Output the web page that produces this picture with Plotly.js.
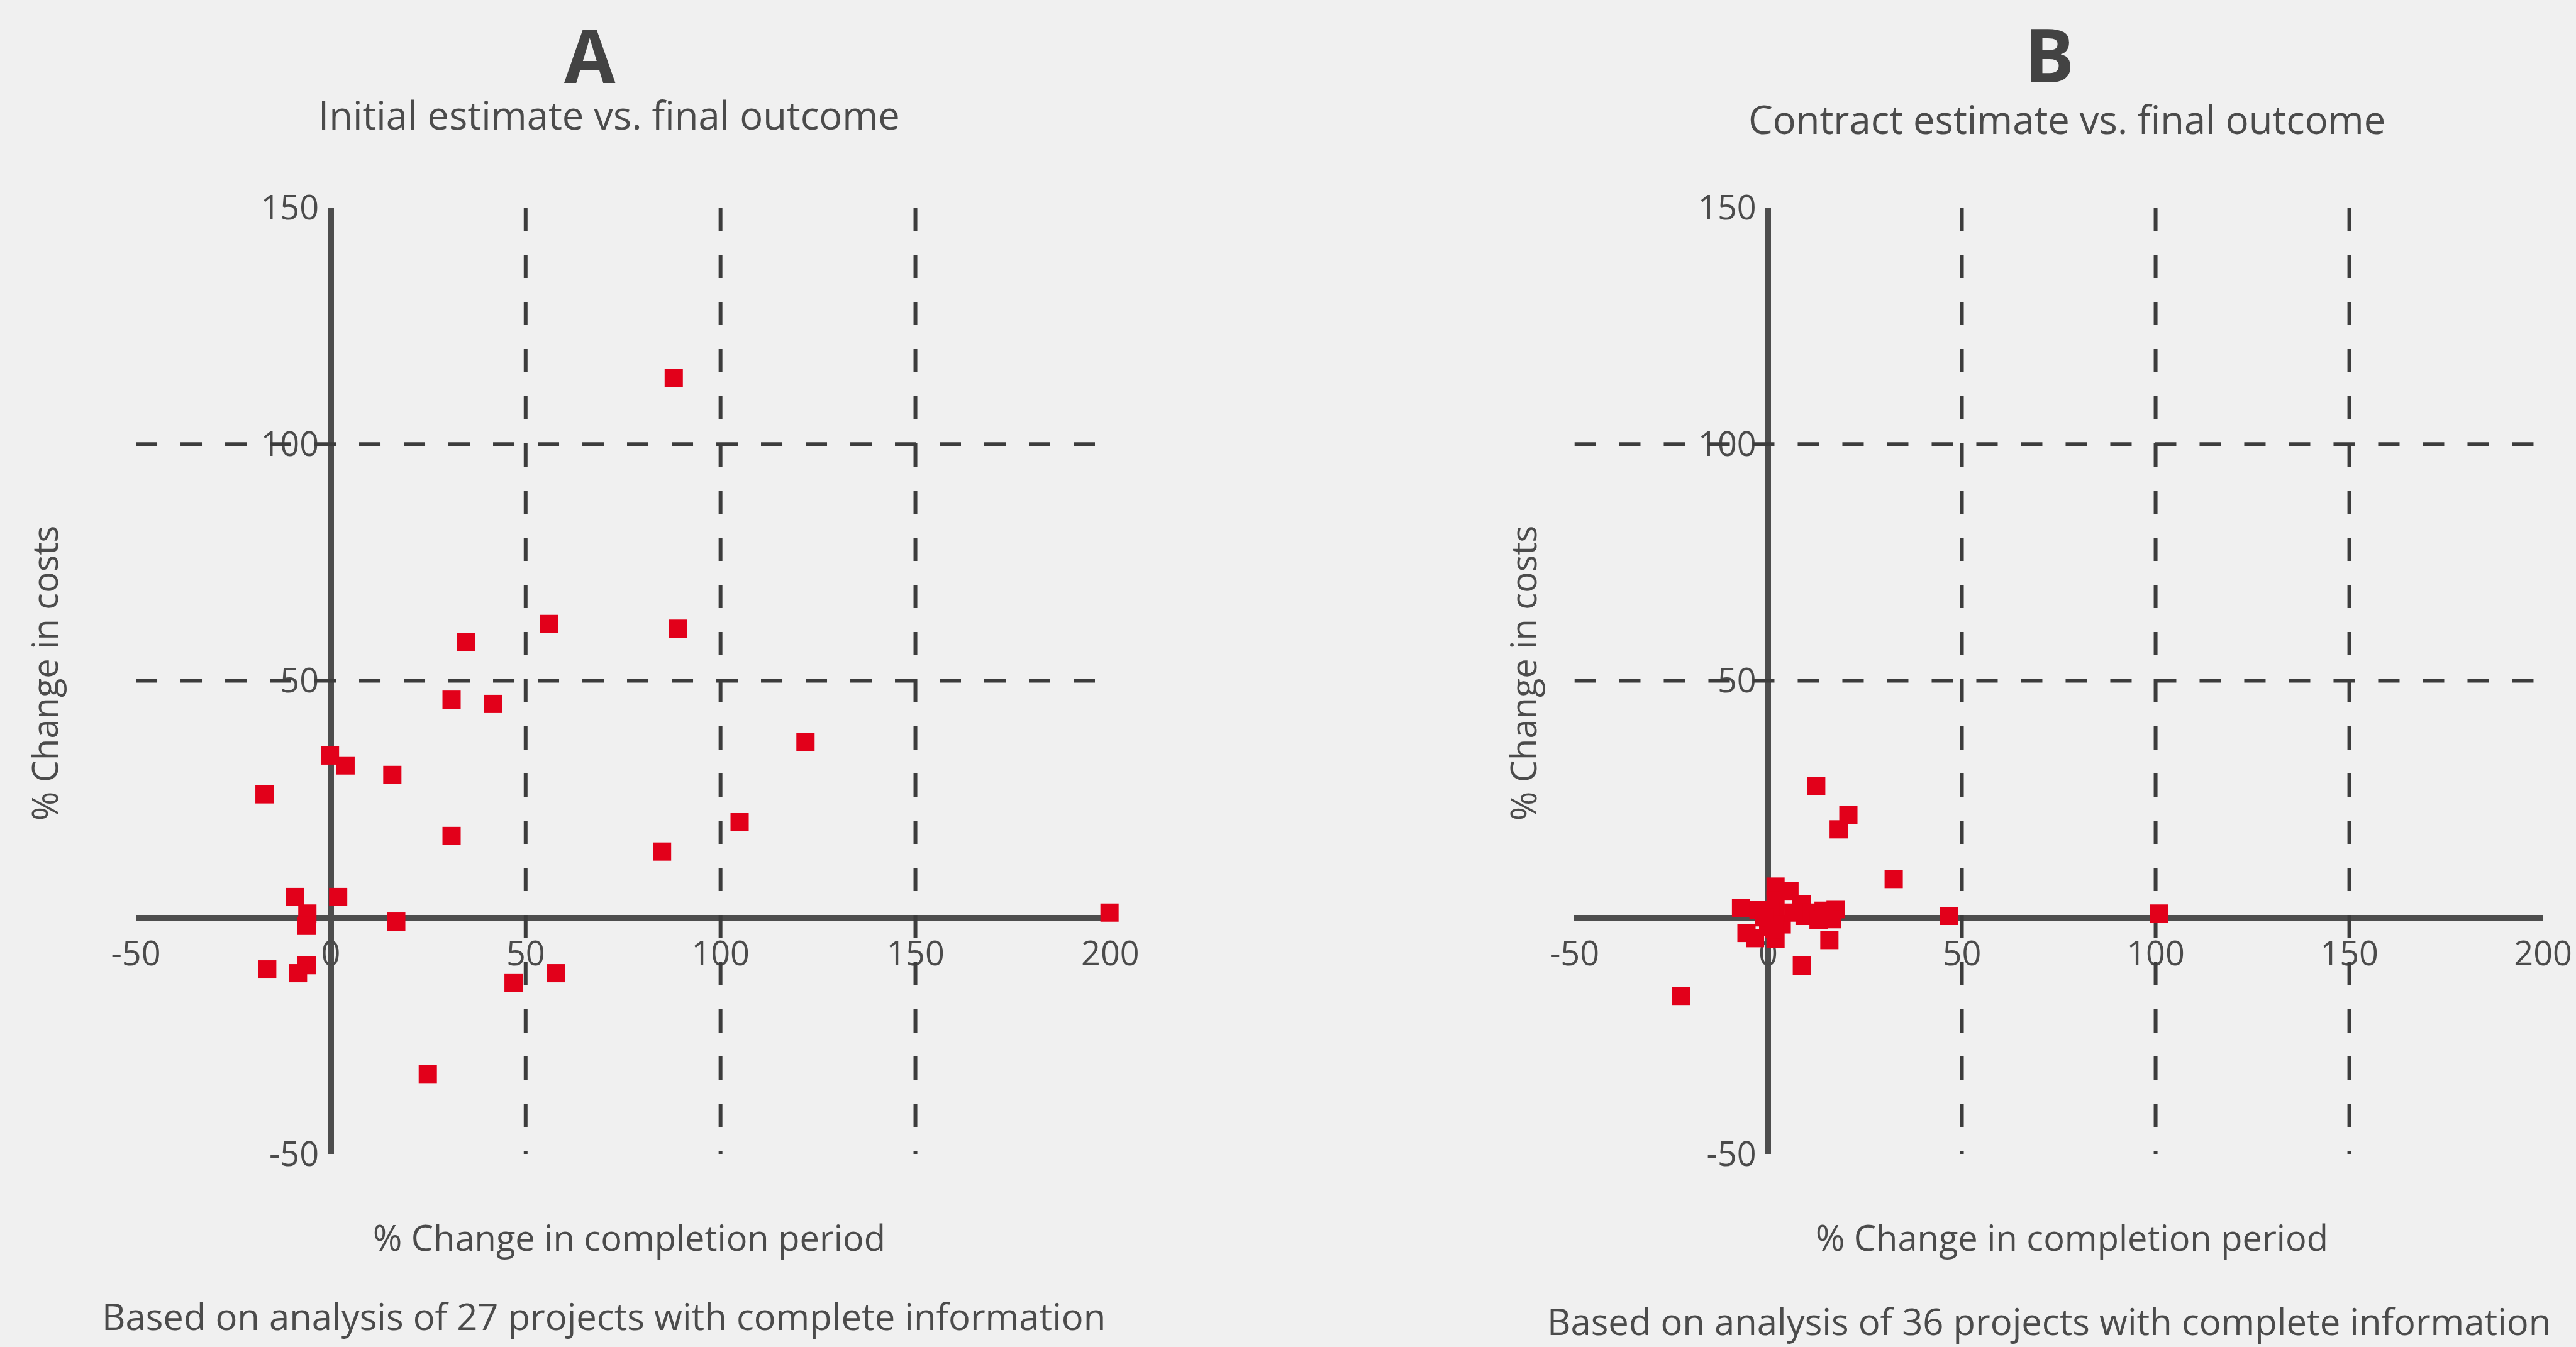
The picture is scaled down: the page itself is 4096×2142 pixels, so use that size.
<!DOCTYPE html>
<html>
<head>
<meta charset="utf-8">
<script src="https://cdn.plot.ly/plotly-3.0.1.min.js"></script>
<style>
  html, body { margin: 0; padding: 0; background: #f0f0f0; }
  #chart { width: 4096px; height: 2142px; }
</style>
</head>
<body>
<div id="chart"></div>
<script>
// Axis ticks and reference lines (percent)
const xTickVals = [-50, 0, 50, 100, 150, 200];
const yTickVals = [-50, 50, 100, 150];
const xGuideVals = [50, 100, 150];
const yGuideVals = [50, 100];
const xRange = [-50, 200];
const yRange = [-50, 150];

// Panel A: initial estimate vs. final outcome
const initialPeriodChange = [34.7, 56.0, 89.0, 31.0, 41.7, -0.2, 3.8, 15.8, -17.0, 31.0, 85.0, -9.1, 1.9,
  -6.0, -6.2, 16.8, -16.3, -6.2, -8.4, 46.9, 57.8, 24.9, 121.8, 104.9, 199.8, 88.0];
const initialCostChange = [58.2, 62.0, 61.0, 46.0, 45.1, 34.2, 32.1, 30.1, 26.0, 17.2, 13.9, 4.3, 4.3,
  0.8, -1.8, -0.9, -11.0, -10.1, -11.8, -13.9, -11.8, -33.1, 37.0, 20.1, 1.0, 114.0];

// Panel B: contract estimate vs. final outcome
const contractPeriodChange = [12.4, 20.7, 18.2, 32.4, 46.7, 100.8, -22.4, 8.7, 15.8, -7.0, -5.6, -3.4, -2.5,
  1.9, 1.9, 1.9, 1.9, 5.5, 8.6, 11.2, 17.4, 16.5, 9.4, 14.3, 0.5, 0.0, 3.5, 6.5, -1.0, 1.5, 13.0];
const contractCostChange = [27.7, 21.7, 18.6, 8.1, 0.3, 0.8, -16.6, -10.2, -4.8, 1.9, -3.3, -4.4, 1.6,
  6.5, 3.6, 0.3, -4.6, 5.6, 2.8, 1.0, 1.7, -0.4, 0.3, 1.4, 1.5, -2.0, -1.5, 1.0, 0.0, -2.5, -0.5];

const panelLetters = ['A', 'B'];
const panelSubtitles = ['Initial estimate vs. final outcome', 'Contract estimate vs. final outcome'];
const xTitle = '% Change in completion period';
const yTitle = '% Change in costs';
const panelNotes = ['Based on analysis of 27 projects with complete information',
                    'Based on analysis of 36 projects with complete information'];

const FONT = 'Open Sans, Roboto, DejaVu Sans, sans-serif';
const INK = '#4b4b4b';
const RED = '#e2001a';

// Dashed guide lines, built as line traces so markers sit on top of them
function guideTraces(xa, ya) {
  const vx = [], vy = [];
  xGuideVals.forEach(v => { vx.push(v, v, null); vy.push(yRange[1], yRange[0], null); });
  const hx = [], hy = [];
  yGuideVals.forEach(v => { hx.push(xRange[0], xRange[1], null); hy.push(v, v, null); });
  return [
    { type: 'scatter', mode: 'lines', x: vx, y: vy, xaxis: xa, yaxis: ya, hoverinfo: 'skip',
      line: { color: '#3c3c3c', width: 6, dash: '37px,38px' }, showlegend: false },
    { type: 'scatter', mode: 'lines', x: hx, y: hy, xaxis: xa, yaxis: ya, hoverinfo: 'skip',
      line: { color: '#3c3c3c', width: 6, dash: '34px,37px' }, showlegend: false }
  ];
}

function pointTrace(xs, ys, xa, ya) {
  return { type: 'scatter', mode: 'markers', x: xs, y: ys, xaxis: xa, yaxis: ya,
    cliponaxis: false, showlegend: false,
    marker: { symbol: 'square', size: 29, color: RED, line: { width: 0 } } };
}

const data = [
  ...guideTraces('x', 'y'),
  pointTrace(initialPeriodChange, initialCostChange, 'x', 'y'),
  ...guideTraces('x2', 'y2'),
  pointTrace(contractPeriodChange, contractCostChange, 'x2', 'y2')
];

const tickFont = { family: FONT, size: 54, color: INK };

function xAxis(domain, yZero) {
  return { domain: domain, range: xRange, anchor: 'free', position: yZero,
    showline: true, linewidth: 9, linecolor: '#4d4d4d', showgrid: false, zeroline: false,
    tickmode: 'array', tickvals: xTickVals, ticktext: xTickVals.map(String), ticks: '',
    ticklabelstandoff: 6, tickfont: tickFont, layer: 'below traces', fixedrange: true };
}
function yAxis(domain, xZero) {
  return { domain: domain, range: yRange, anchor: 'free', position: xZero, side: 'left',
    showline: true, linewidth: 9, linecolor: '#4d4d4d', showgrid: false, zeroline: false,
    tickmode: 'array', tickvals: yTickVals, ticktext: yTickVals.map(String), ticks: '',
    ticklabelstandoff: 4, tickfont: tickFont, layer: 'below traces', fixedrange: true };
}

const yDomain = [0.14333, 0.84589];
const xZeroFrac = 0.31886;

const W = 4096, H = 2142;
function ann(text, px, py, size, opts) {
  return Object.assign({ text: text, xref: 'paper', yref: 'paper', x: px / W, y: 1 - py / H,
    xanchor: 'center', yanchor: 'middle', showarrow: false,
    font: { family: FONT, size: size, color: INK } }, opts || {});
}

const letterFont = { family: FONT, size: 118, color: '#434343', weight: 700 };

const annotations = [
  ann(panelLetters[0], 938, 86, 118, { font: letterFont, height: 116 }),
  ann(panelLetters[1], 3258, 85, 118, { font: letterFont, height: 116 }),
  ann(panelSubtitles[0], 968, 182, 61.5, { height: 70 }),
  ann(panelSubtitles[1], 3286, 189, 61.5, { height: 70 }),
  ann(yTitle, 70, 1071, 56, { textangle: -90 }),
  ann(yTitle, 2421, 1071, 56, { textangle: -90 }),
  ann(xTitle, 1000, 1967, 56),
  ann(xTitle, 3294, 1967, 56),
  ann(panelNotes[0], 960, 2092, 58),
  ann(panelNotes[1], 3258, 2100, 58)
];

const layout = {
  width: W, height: H, autosize: false,
  margin: { l: 0, r: 0, t: 0, b: 0, pad: 0 },
  paper_bgcolor: '#f0f0f0', plot_bgcolor: 'rgba(0,0,0,0)',
  showlegend: false,
  xaxis: xAxis([0.05274, 0.43101], xZeroFrac),
  yaxis: yAxis(yDomain, 0.12840),
  xaxis2: xAxis([0.61120, 0.98721], xZeroFrac),
  yaxis2: yAxis(yDomain, 0.68640),
  annotations: annotations
};

Plotly.newPlot('chart', data, layout, { staticPlot: true, displayModeBar: false });
</script>
</body>
</html>
